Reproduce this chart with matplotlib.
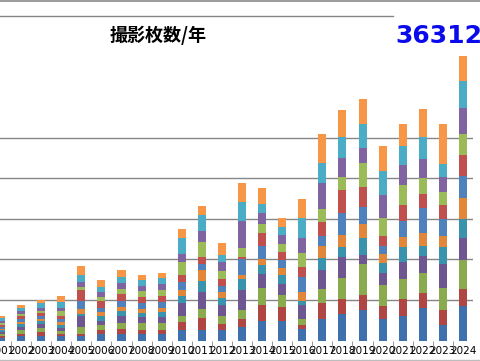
import matplotlib.pyplot as plt
from matplotlib.lines import Line2D

plt.rcParams['font.family'] = ['Noto Sans CJK JP', 'DejaVu Sans']

years = list(range(2001, 2025))

# monthly shots per year, bottom (jan) to top (dec)
jan = [370, 494, 494, 494, 494, 741, 864, 864, 741, 1235, 1358, 1235, 1728, 2469, 2469, 1481, 2716, 3210, 3827, 2593, 2963, 3951, 1852, 4259]
feb = [247, 370, 494, 370, 370, 494, 617, 494, 617, 988, 1481, 741, 988, 1852, 1728, 494, 1975, 1852, 1852, 1605, 2099, 1852, 1975, 2099]
mar = [247, 494, 494, 370, 864, 617, 741, 741, 741, 741, 1111, 988, 1111, 2222, 1481, 741, 1728, 2593, 3704, 2593, 2469, 2469, 2716, 3580]
apr = [247, 370, 494, 370, 1235, 617, 864, 741, 741, 1605, 2099, 1358, 2469, 1728, 1358, 1605, 2346, 2593, 1111, 1481, 2099, 2099, 2840, 2716]
may = [247, 370, 370, 370, 370, 494, 617, 494, 617, 864, 1235, 864, 1235, 1111, 1111, 617, 1481, 1235, 2222, 1235, 1852, 1235, 2099, 2346]
jun = [123, 247, 370, 370, 617, 494, 494, 494, 494, 741, 1358, 741, 617, 741, 864, 988, 1481, 1481, 1728, 1111, 1235, 1605, 1358, 2593]
jul = [247, 370, 370, 370, 988, 617, 741, 741, 741, 988, 741, 741, 1852, 1605, 988, 1852, 1235, 2716, 2099, 988, 1975, 3086, 2099, 2716]
aug = [247, 370, 370, 370, 1358, 864, 864, 741, 741, 864, 864, 864, 370, 1605, 988, 1235, 1728, 2840, 2469, 1235, 1975, 1728, 1728, 2593]
sep = [247, 247, 247, 617, 370, 494, 617, 741, 741, 1605, 1852, 988, 1111, 988, 988, 1728, 1605, 1605, 2963, 2222, 2469, 1975, 1605, 2593]
oct_ = [247, 370, 370, 370, 617, 617, 741, 617, 741, 988, 1481, 1111, 3333, 1481, 988, 1975, 3210, 2346, 1852, 2840, 2469, 2469, 1852, 3210]
nov = [309, 309, 617, 741, 802, 617, 741, 741, 741, 1975, 1975, 864, 2346, 1111, 1111, 2346, 2469, 2593, 2963, 2963, 2346, 2593, 1605, 3333]
dec = [247, 370, 309, 679, 1111, 802, 802, 679, 679, 1111, 1111, 1481, 2346, 1975, 988, 2346, 3580, 3333, 3086, 3086, 2716, 3457, 4938, 3086]

months = [jan, feb, mar, apr, may, jun, jul, aug, sep, oct_, nov, dec]
colors = ['#3F70AE', '#B04644', '#8AAA4E', '#6E5690', '#3A93AD', '#E2873A',
          '#4F81BD', '#C0504D', '#9BBB59', '#8064A2', '#4BACC6', '#F79646']

title = '撮影枚数/年'
total_label = '36312'

fig = plt.figure(figsize=(4.8, 3.61), dpi=100)
ax = fig.add_axes([0, 20.5 / 361, 473 / 480, 340.5 / 361])

bottom = [0] * len(years)
for vals, c in zip(months, colors):
    ax.bar(years, vals, width=0.4, bottom=bottom, color=c, zorder=3)
    bottom = [b + v for b, v in zip(bottom, vals)]

ax.set_xlim(2000.95, 2024.5)
ax.set_ylim(0, 42037)

for g in [5000, 10000, 15000, 20000, 25000]:
    ax.axhline(g, color='#868686', lw=1.0, zorder=1)
ax.axhline(40000, xmax=393 / 473, color='#868686', lw=1.0, zorder=1)

for s in ax.spines.values():
    s.set_visible(False)
ax.set_yticks([])
ax.set_xticks(years)
ax.set_xticklabels([str(y) for y in years], fontsize=7.5, family='DejaVu Sans')
ax.set_xticks([y + 0.5 for y in years[:-1]], minor=True)
ax.tick_params(axis='x', which='major', length=0, pad=4)
ax.tick_params(axis='x', which='minor', length=4, color='#868686')

fig.add_artist(Line2D([0, 1], [1 - 0.5 / 361, 1 - 0.5 / 361], color='#8a8a8a', lw=1.2))
fig.add_artist(Line2D([0, 1], [1.5 / 361, 1.5 / 361], color='#bdbdbd', lw=1.0))

fig.text(158 / 480, 1 - 35 / 361, title, fontsize=13, fontweight='bold',
         ha='center', va='center')
fig.text(395 / 480, 1 - 43 / 361, total_label, fontsize=18, fontweight='bold',
         color='#0a0aea', family='DejaVu Sans', ha='left', va='baseline')

fig.savefig('out.png', dpi=100)
